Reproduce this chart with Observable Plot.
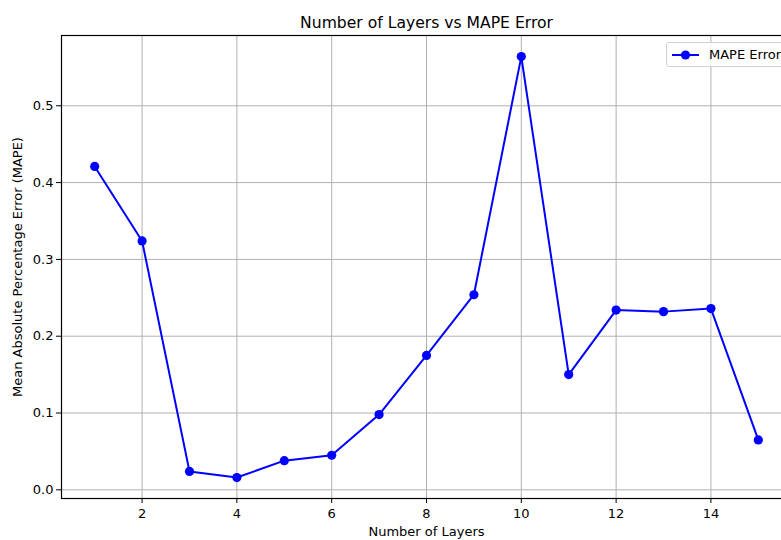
<!DOCTYPE html>
<html>
<head>
<meta charset="utf-8">
<script src="https://cdn.jsdelivr.net/npm/d3@7"></script>
<script src="https://cdn.jsdelivr.net/npm/@observablehq/plot@0.6"></script>
<style>
  html, body { margin: 0; padding: 0; background: #fff; overflow: hidden; }
  #wrap { position: relative; width: 781px; height: 540px; }
  #legend {
    position: absolute; left: 666px; top: 42px; width: 130px; height: 25px;
    border: 1px solid #d0d0d0; border-radius: 3px; background: rgba(255,255,255,0.85);
    font-family: "DejaVu Sans", sans-serif; font-size: 13px; color: #000;
    display: flex; align-items: center; box-sizing: border-box;
  }
  #legend svg { margin-left: 4px; margin-right: 9px; }
</style>
</head>
<body>
<div id="wrap"></div>
<script>
const layers = [1, 2, 3, 4, 5, 6, 7, 8, 9, 10, 11, 12, 13, 14, 15];
const mape = [0.421, 0.324, 0.024, 0.016, 0.038, 0.045, 0.098, 0.175, 0.254, 0.564, 0.150, 0.234, 0.232, 0.236, 0.065];
const xTicks = [2, 4, 6, 8, 10, 12, 14];
const yTicks = [0.0, 0.1, 0.2, 0.3, 0.4, 0.5];
const titleText = "Number of Layers vs MAPE Error";
const xLabel = "Number of Layers";
const yLabel = "Mean Absolute Percentage Error (MAPE)";
const seriesName = "MAPE Error";

const data = layers.map((l, i) => ({layers: l, mape: mape[i]}));
const font = "DejaVu Sans, sans-serif";

const chart = Plot.plot({
  width: 781,
  height: 540,
  marginLeft: 61,
  marginRight: -10,
  marginTop: 35,
  marginBottom: 42,
  style: {fontFamily: font, fontSize: "13px", background: "#fff", color: "#000", overflow: "visible"},
  x: {domain: [0.3, 15.7], ticks: xTicks, label: null},
  y: {domain: [-0.0113, 0.5915], ticks: yTicks, label: null},
  marks: [
    Plot.gridX(xTicks, {stroke: "#b0b0b0", strokeOpacity: 1, strokeWidth: 1}),
    Plot.gridY(yTicks, {stroke: "#b0b0b0", strokeOpacity: 1, strokeWidth: 1}),
    Plot.axisX(xTicks, {tickSize: 5, tickPadding: 5, tickFormat: d => String(d), fontSize: 13, stroke: "#000"}),
    Plot.axisY(yTicks, {tickSize: 5, tickPadding: 3, tickFormat: d => d.toFixed(1), fontSize: 13, stroke: "#000"}),
    Plot.frame({stroke: "#000", strokeWidth: 1.2}),
    Plot.line(data, {x: "layers", y: "mape", stroke: "#0000ff", strokeWidth: 2}),
    Plot.dot(data, {x: "layers", y: "mape", r: 4.6, fill: "#0000ff", stroke: "none"}),
    Plot.text([titleText], {frameAnchor: "top", dy: -19, fontSize: 15.6, fill: "#000"}),
    Plot.text([xLabel], {frameAnchor: "bottom", dy: 37, fontSize: 13, fill: "#000"}),
    Plot.text([yLabel], {frameAnchor: "left", dx: -44, rotate: -90, textAnchor: "middle", fontSize: 13, fill: "#000"})
  ]
});

const wrap = document.getElementById("wrap");
wrap.appendChild(chart);

const legend = document.createElement("div");
legend.id = "legend";
legend.innerHTML = `<svg width="29" height="12"><line x1="1" y1="6" x2="28" y2="6" stroke="#0000ff" stroke-width="2"/><circle cx="14.5" cy="6" r="4.6" fill="#0000ff"/></svg><span>${seriesName}</span>`;
wrap.appendChild(legend);
</script>
</body>
</html>
